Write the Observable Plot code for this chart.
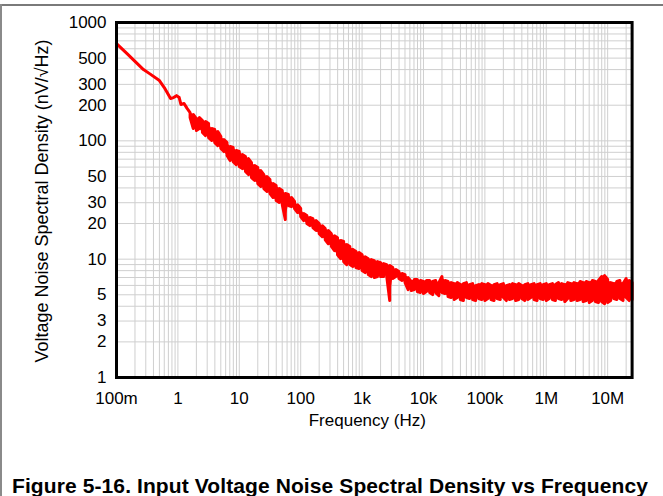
<!DOCTYPE html>
<html>
<head>
<meta charset="utf-8">
<script src="https://cdn.jsdelivr.net/npm/d3@7"></script>
<script src="https://cdn.jsdelivr.net/npm/@observablehq/plot@0.6"></script>
<style>
  html, body { margin: 0; padding: 0; background: #fff; }
  #page { position: relative; width: 663px; height: 496px; overflow: hidden; background: #fff; font-family: "Liberation Sans", Arial, sans-serif; }
  #topline { position: absolute; left: 0; top: 4px; width: 663px; height: 1.5px; background: #7a7a7a; }
  #leftline { position: absolute; left: 0; top: 4px; width: 1.5px; height: 492px; background: #8a8a8a; }
  #chart { position: absolute; left: 0; top: 0; }
  #caption { position: absolute; left: 12px; top: 475px; font-size: 21px; line-height: 21px; font-weight: bold; white-space: nowrap; color: #000; letter-spacing: 0.1px; }
</style>
</head>
<body>
<div id="page">
  <div id="topline"></div>
  <div id="leftline"></div>
  <div id="chart"></div>
  <div id="caption">Figure 5-16. Input Voltage Noise Spectral Density vs Frequency</div>
</div>
<script>
// ---- Data ----
// Smooth low-frequency part of the curve: frequency (Hz) and noise (nV/√Hz)
const smoothFreq  = [0.1, 0.15, 0.2, 0.275, 0.35, 0.5, 0.6, 0.76, 0.85, 0.95, 1.05, 1.12, 1.26, 1.41];
const smoothNoise = [664, 543, 469, 400, 368, 323, 282, 228, 232, 241, 232, 203, 207, 188];

// Noisy part: frequency (Hz) with the upper and lower edge of the noise trace (nV/√Hz)
const noisyFreq = [
  1.58, 1.78, 2.0, 2.24, 2.51, 2.82, 3.16, 3.55, 3.98, 4.47, 5.01, 5.62, 6.31, 7.08, 7.94, 8.91,
  10, 11.2, 12.6, 14.1, 15.8, 17.8, 20, 22.4, 25.1, 28.2, 31.6, 35.5, 39.8, 44.7, 50.1, 56.2, 63.1, 70.8, 79.4, 89.1,
  100, 112, 126, 141, 158, 178, 200, 224, 251, 282, 316, 355, 398, 447, 501, 562, 631, 708, 794, 891,
  1000, 1120, 1260, 1410, 1580, 1780, 2000, 2240, 2510, 2820, 3160, 3550, 3980, 4470, 5010, 5620, 6310, 7080, 7940, 8910,
  10000, 11200, 12600, 14100, 15800, 17800, 20000, 22400, 25100, 28200, 31600, 35500, 39800, 44700, 50100, 56200, 63100, 70800, 79400, 89100,
  100000, 112000, 126000, 141000, 158000, 178000, 200000, 224000, 251000, 282000, 316000, 355000, 398000, 447000, 501000, 562000, 631000, 708000, 794000, 891000,
  1000000, 1120000, 1260000, 1410000, 1580000, 1780000, 2000000, 2240000, 2510000, 2820000, 3160000, 3550000, 3980000, 4470000, 5010000, 5620000, 6310000, 7080000, 7940000, 8910000,
  10000000, 11200000, 12600000, 14100000, 15800000, 17800000, 20000000, 22400000, 25000000
];
const noiseHigh = [
  173.5, 166.9, 154.3, 157.4, 148.4, 145.6, 140.0, 127.0, 124.6, 119.8, 108.7, 102.6, 96.7, 89.5, 87.8, 82.8,
  81.2, 76.6, 73.7, 70.8, 65.5, 61.8, 59.4, 56.1, 51.9, 49.9, 47.1, 43.5, 41.9, 39.5, 38.0, 35.9, 35.2, 33.2, 30.7, 28.9,
  26.8, 24.3, 23.4, 22.5, 22.0, 21.2, 20.0, 19.2, 18.1, 17.5, 16.4, 15.8, 15.2, 14.4, 14.1, 13.3, 12.8, 12.1, 11.6, 11.4,
  10.9, 10.5, 10.1, 9.92, 9.73, 9.54, 9.36, 9.18, 9.00, 8.83, 8.49, 8.17, 7.86, 7.56, 7.41, 6.99, 6.47, 6.73, 6.73, 6.60,
  6.47, 6.60, 6.60, 6.47, 6.60, 6.34, 7.13, 6.60, 6.47, 6.34, 6.22, 6.34, 6.10, 6.22, 6.34, 6.10, 6.22, 5.98, 6.10, 6.22,
  6.10, 6.22, 5.98, 6.10, 6.22, 6.10, 6.22, 5.98, 6.10, 6.22, 6.10, 6.22, 5.98, 6.10, 6.22, 6.10, 6.22, 6.10, 6.22, 6.10,
  6.22, 6.10, 6.22, 6.10, 6.34, 6.22, 6.10, 6.34, 6.22, 6.34, 6.22, 6.47, 6.34, 6.47, 6.34, 6.60, 6.47, 6.60, 7.13, 7.27,
  6.73, 6.34, 6.22, 6.47, 6.60, 6.22, 6.86, 6.60, 6.34
];
const noiseLow = [
  157.4, 127.0, 122.2, 127.0, 117.5, 110.8, 106.6, 100.6, 96.7, 91.2, 86.1, 81.2, 75.1, 68.1, 66.8, 63.0,
  60.6, 58.3, 55.0, 51.9, 48.9, 46.2, 43.5, 41.1, 39.5, 37.3, 35.9, 33.2, 31.3, 30.1, 28.9, 21.6, 28.4, 27.8, 26.8, 24.8,
  22.9, 21.2, 20.0, 19.2, 18.5, 17.5, 16.4, 15.5, 14.6, 13.5, 12.8, 11.8, 10.9, 10.1, 9.54, 9.00, 9.00, 8.66, 8.49, 8.33,
  8.01, 7.70, 7.41, 7.13, 6.99, 7.13, 7.13, 7.13, 7.27, 4.47, 6.86, 7.13, 6.86, 6.60, 6.34, 5.53, 5.43, 5.53, 5.32, 5.22,
  5.12, 5.32, 5.22, 5.02, 5.22, 4.92, 5.22, 5.12, 4.83, 4.74, 4.56, 4.74, 4.56, 4.47, 4.74, 4.65, 4.56, 4.47, 4.65, 4.56,
  4.47, 4.65, 4.56, 4.47, 4.65, 4.56, 4.74, 4.47, 4.56, 4.65, 4.47, 4.56, 4.65, 4.47, 4.56, 4.74, 4.56, 4.47, 4.65, 4.56,
  4.47, 4.65, 4.56, 4.47, 4.65, 4.56, 4.38, 4.65, 4.47, 4.56, 4.47, 4.56, 4.38, 4.47, 4.30, 4.47, 4.38, 4.30, 4.38, 4.21,
  4.30, 4.47, 4.65, 4.56, 4.65, 4.47, 4.74, 4.47, 4.56
];

// Axis ticks and labels
const xTicks = [0.1, 1, 10, 100, 1000, 10000, 100000, 1000000, 10000000];
const xTickLabels = ["100m", "1", "10", "100", "1k", "10k", "100k", "1M", "10M"];
const yTicks = [1, 2, 3, 5, 10, 20, 30, 50, 100, 200, 300, 500, 1000];
const yTickLabels = ["1", "2", "3", "5", "10", "20", "30", "50", "100", "200", "300", "500", "1000"];
const xTitle = "Frequency (Hz)";
const yTitle = "Voltage Noise Spectral Density (nV/√Hz)";

// ---- Build mark data ----
const bins = noisyFreq.map((f, i) => ({f, hi: noiseHigh[i], lo: noiseLow[i]}));
const lineData = smoothFreq.map((f, i) => ({f, v: smoothNoise[i]}))
  .concat(bins.flatMap((b, i) => i % 2 ? [{f: b.f, v: b.lo}, {f: b.f, v: b.hi}] : [{f: b.f, v: b.hi}, {f: b.f, v: b.lo}]));
const xLab = xTicks.map((t, i) => ({t, label: xTickLabels[i]}));
const yLab = yTicks.map((t, i) => ({t, label: yTickLabels[i]}));

// log grid lines (1..9 per decade)
const xGrid = [];
for (let k = -1; k <= 7; k++) for (let m = 1; m <= 9; m++) { const v = m * Math.pow(10, k); if (v <= 25e6 * 1.0001) xGrid.push(v); }
const yGrid = [];
for (let k = 0; k <= 2; k++) for (let m = 1; m <= 9; m++) yGrid.push(m * Math.pow(10, k));
yGrid.push(1000);

const font = "'Liberation Sans', Arial, sans-serif";
const chart = Plot.plot({
  width: 663,
  height: 440,
  marginLeft: 116,
  marginRight: 31.4,
  marginTop: 22,
  marginBottom: 63,
  x: {type: "log", domain: [0.1, 25e6], axis: null},
  y: {type: "log", domain: [1, 1000], axis: null},
  style: {fontFamily: font, fontSize: "17px", color: "#000", background: "transparent", overflow: "visible"},
  marks: [
    Plot.ruleX(xGrid, {stroke: "#cfcfcf", strokeWidth: 1}),
    Plot.ruleY(yGrid, {stroke: "#cfcfcf", strokeWidth: 1}),
    Plot.areaY(bins, {x: "f", y1: "lo", y2: "hi", fill: "#ff0000"}),
    Plot.line(lineData, {x: "f", y: "v", stroke: "#ff0000", strokeWidth: 3, strokeLinejoin: "round", strokeLinecap: "round"}),
    Plot.frame({stroke: "#000", strokeWidth: 3}),
    Plot.text(xLab, {x: "t", y: () => 1, text: "label", dy: 21, fontSize: 17, textAnchor: "middle", lineAnchor: "middle", fill: "#000"}),
    Plot.text(yLab, {x: () => 0.1, y: "t", text: "label", dx: -10, fontSize: 17, textAnchor: "end", lineAnchor: "middle", fill: "#000"}),
    Plot.text([xTitle], {frameAnchor: "bottom", dy: 43, dx: -7, fontSize: 17, textAnchor: "middle", lineAnchor: "middle", fill: "#000"}),
    Plot.text([yTitle], {frameAnchor: "left", rotate: -90, dx: -74, dy: 1, fontSize: 18, textAnchor: "middle", lineAnchor: "middle", fill: "#000"})
  ]
});
document.getElementById("chart").appendChild(chart);
</script>
</body>
</html>
